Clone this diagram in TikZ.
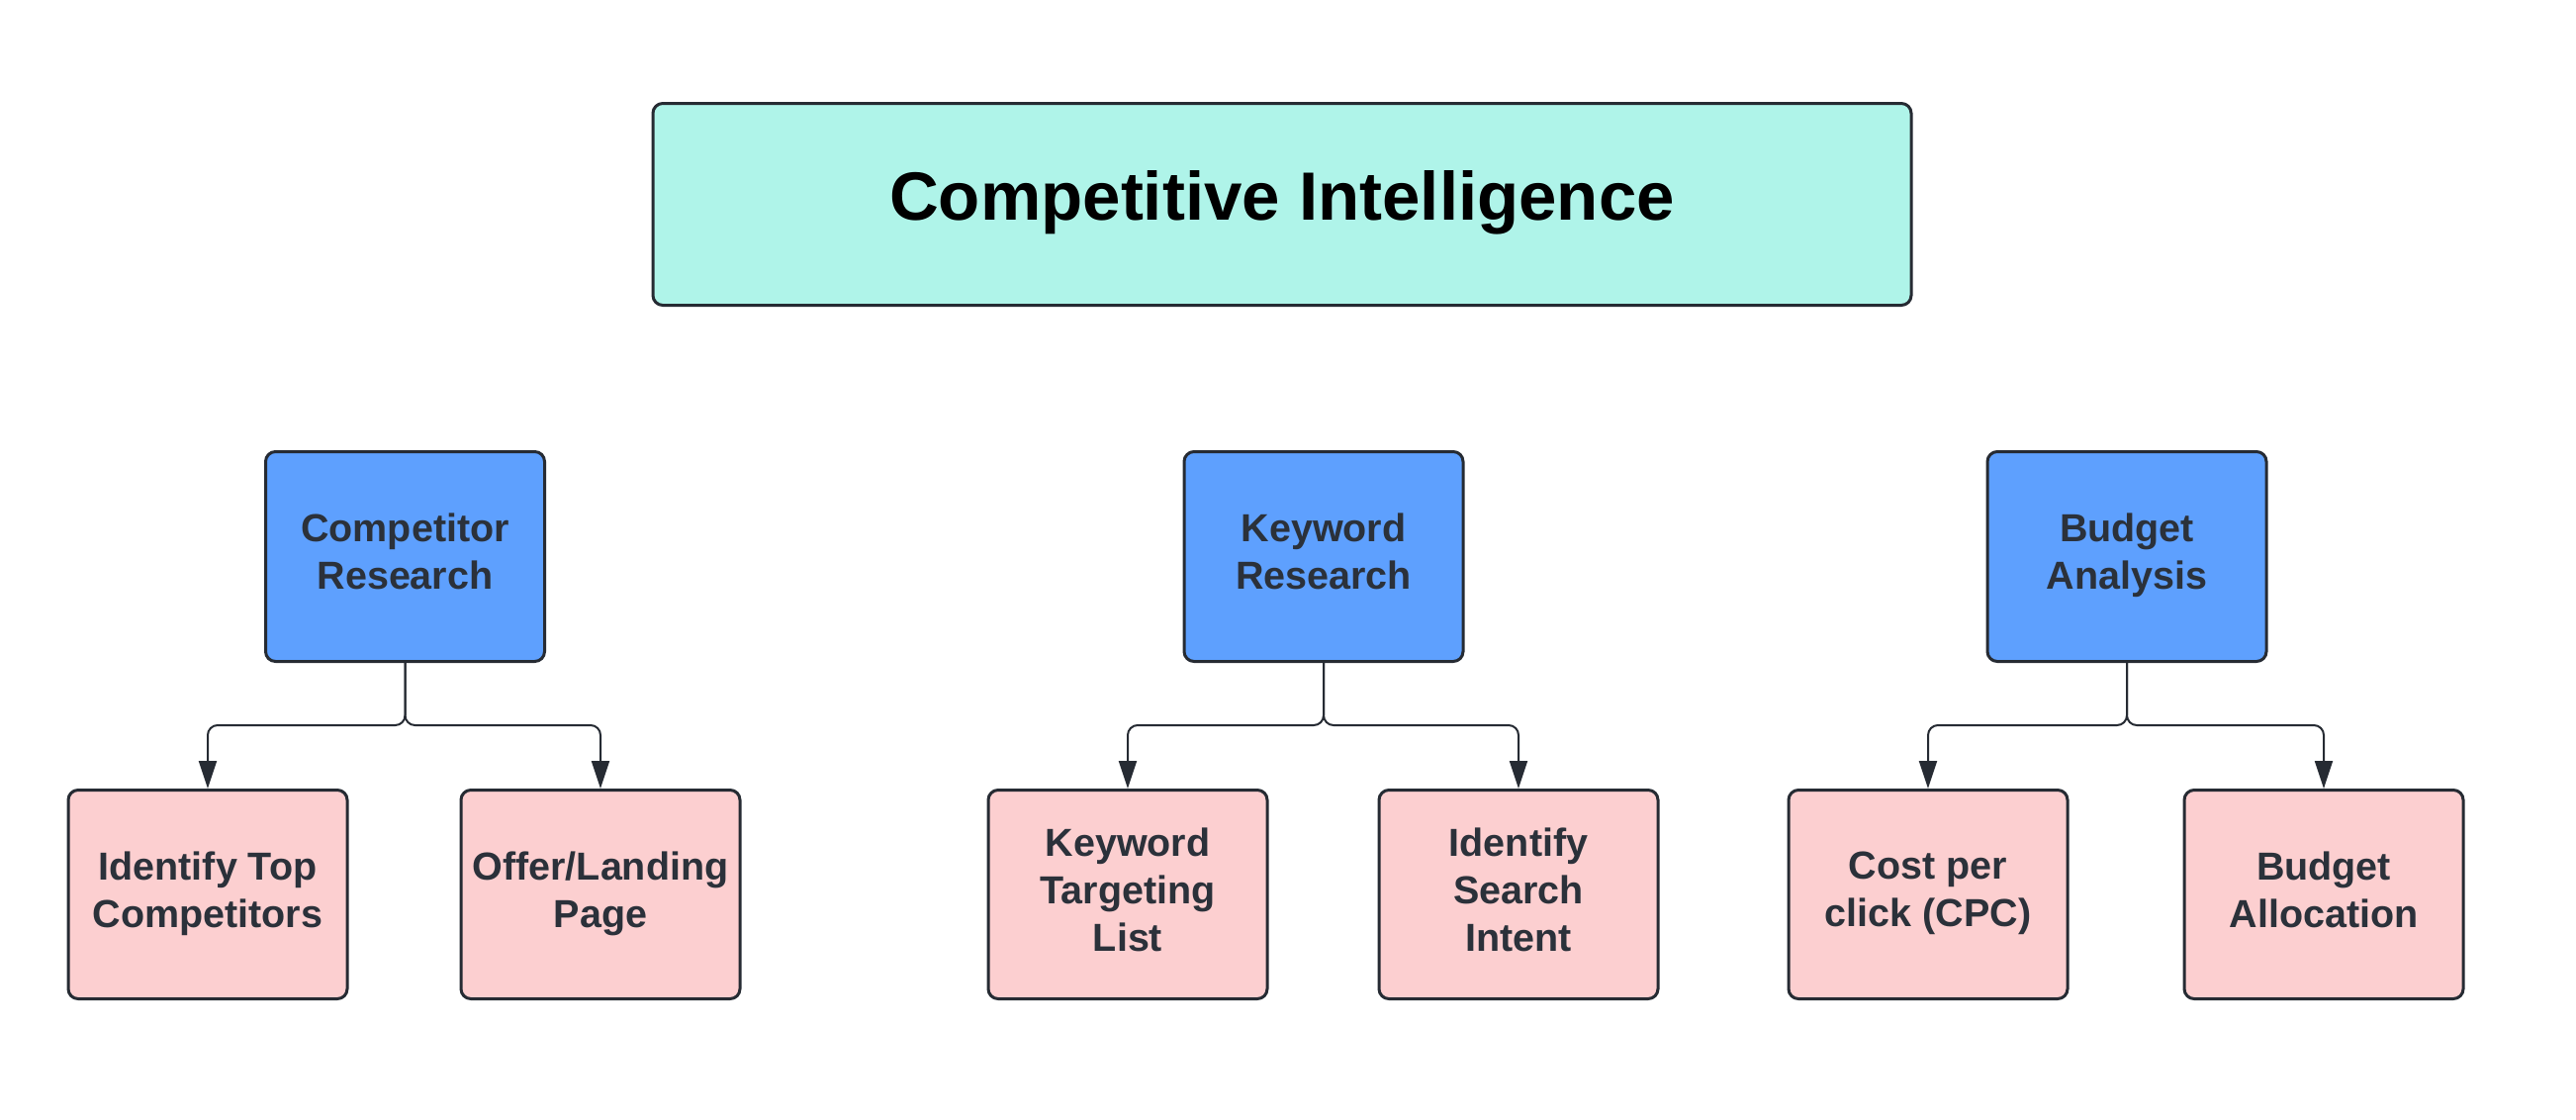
\documentclass[tikz,border=0pt]{standalone}
\usepackage{fontspec}
\setmainfont{Liberation Sans}
\usetikzlibrary{arrows.meta}
\definecolor{tealfill}{HTML}{AFF4E9}
\definecolor{bluefill}{HTML}{5EA0FE}
\definecolor{pinkfill}{HTML}{FCCFD0}
\definecolor{edgecol}{HTML}{262B33}
\definecolor{textcol}{HTML}{2B313A}
\begin{document}
\begin{tikzpicture}[x=1pt,y=-1pt,
  basebox/.style={draw=edgecol, line width=3pt, rounded corners=10pt, align=center, inner sep=0pt},
  titlebox/.style={basebox, fill=tealfill, minimum width=1272pt, minimum height=204pt, text=black, text depth=19pt, font=\bfseries\fontsize{69}{82}\selectfont},
  catbox/.style={basebox, fill=bluefill, minimum width=282pt, minimum height=212pt, text=textcol, text depth=10pt, font=\bfseries\fontsize{39.5}{48}\selectfont},
  leafbox/.style={basebox, fill=pinkfill, minimum width=282pt, minimum height=211pt, text=textcol, text depth=10pt, font=\bfseries\fontsize{39.5}{48}\selectfont},
  conn/.style={draw=edgecol, line width=2pt, rounded corners=10pt, -{Triangle[width=18pt,length=28pt]}}
]
\useasboundingbox[fill=white] (0,0) rectangle (2604,1132);

\node[titlebox] (ci) at (1296,206.5) {Competitive Intelligence};

\node[catbox] (cr) at (409.5,562.5) {Competitor\\Research};
\node[catbox] (kr) at (1338,562.5) {Keyword\\Research};
\node[catbox] (ba) at (2150,562.5) {Budget\\Analysis};

\node[leafbox] (itc) at (210,904) {Identify Top\\Competitors};
\node[leafbox] (olp) at (607,904) {Offer/Landing\\Page};
\node[leafbox] (ktl) at (1140,904) {Keyword\\Targeting\\List};
\node[leafbox] (isi) at (1535,904) {Identify\\Search\\Intent};
\node[leafbox] (cpc) at (1949,904) {Cost per\\click (CPC)};
\node[leafbox] (bal) at (2349,904) {Budget\\Allocation};

\coordinate (bus) at (0,733);

\draw[conn] (cr.south) |- (itc.north |- bus) -- (itc.north);
\draw[conn] (cr.south) |- (olp.north |- bus) -- (olp.north);
\draw[conn] (kr.south) |- (ktl.north |- bus) -- (ktl.north);
\draw[conn] (kr.south) |- (isi.north |- bus) -- (isi.north);
\draw[conn] (ba.south) |- (cpc.north |- bus) -- (cpc.north);
\draw[conn] (ba.south) |- (bal.north |- bus) -- (bal.north);
\end{tikzpicture}
\end{document}
